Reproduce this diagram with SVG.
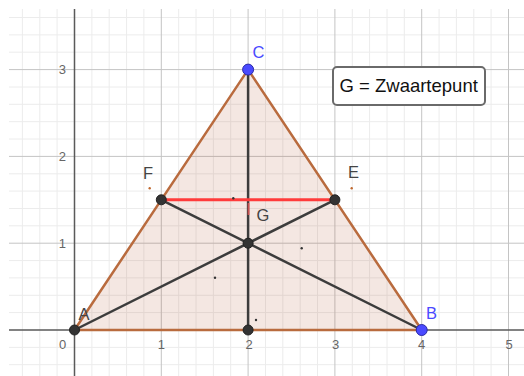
<svg xmlns="http://www.w3.org/2000/svg" width="524" height="376" viewBox="0 0 524 376">
<style>
.minor{stroke:#ececec;stroke-width:1;fill:none}
.major{stroke:#c4c4c4;stroke-width:1;fill:none}
.axis{stroke:#5a5a5a;stroke-width:1.5;fill:none}
.num{font-family:"Liberation Sans",Arial,sans-serif;font-size:13px;fill:#666}
.lbl{font-family:"Liberation Sans",Arial,sans-serif;font-size:16.5px;fill:#444}
.blue{fill:#4a4aff}
.med{stroke:#3c3c3c;stroke-width:2.5;stroke-linecap:round;fill:none}
.pt{fill:#333;stroke:#222;stroke-width:1}
.bpt{fill:#4a4aff;stroke:#2a2aa8;stroke-width:1}
.dot{fill:#333}
.odot{fill:#c0692f}
</style>
<rect x="0" y="0" width="524" height="376" fill="#fff"/>
<g id="grid">
<path class="minor" d="M22.4 9V376M39.8 9V376M57.1 9V376M91.9 9V376M109.2 9V376M126.6 9V376M143.9 9V376M178.7 9V376M196 9V376M213.4 9V376M230.7 9V376M265.5 9V376M282.8 9V376M300.2 9V376M317.5 9V376M352.3 9V376M369.6 9V376M387 9V376M404.3 9V376M439.1 9V376M456.4 9V376M473.8 9V376M491.1 9V376
M9 364.7H524M9 347.4H524M9 312.6H524M9 295.3H524M9 277.9H524M9 260.6H524M9 225.8H524M9 208.5H524M9 191.1H524M9 173.8H524M9 139H524M9 121.7H524M9 104.3H524M9 87H524M9 52.2H524M9 34.9H524M9 17.5H524"/>
<path class="major" d="M161.3 9V376M248.1 9V376M334.9 9V376M421.7 9V376M508.5 9V376M9 243.2H524M9 156.4H524M9 69.6H524"/>
</g>
<g id="axes">
<path class="axis" d="M9 330H524M74.5 9V376"/>
<text class="num" x="66" y="74" text-anchor="end">3</text>
<text class="num" x="66" y="161" text-anchor="end">2</text>
<text class="num" x="66" y="248" text-anchor="end">1</text>
<text class="num" x="62.5" y="348.5" text-anchor="middle">0</text>
<text class="num" x="161.3" y="348.5" text-anchor="middle">1</text>
<text class="num" x="249" y="348.5" text-anchor="middle">2</text>
<text class="num" x="335.5" y="348.5" text-anchor="middle">3</text>
<text class="num" x="421.7" y="348.5" text-anchor="middle">4</text>
<text class="num" x="509" y="348.5" text-anchor="middle">5</text>
</g>
<g id="triangle">
<polygon points="74.5,330 421.7,330 248.1,69.6" fill="#af5830" fill-opacity="0.14" stroke="#b96b3e" stroke-width="2.5" stroke-linejoin="round"/>
</g>
<g id="connectors">
<line class="med" x1="74.5" y1="330" x2="334.9" y2="199.8"/>
<line class="med" x1="421.7" y1="330" x2="161.3" y2="199.8"/>
<line class="med" x1="248.1" y1="69.6" x2="248.1" y2="330"/>
<line x1="161.3" y1="199.8" x2="334.9" y2="199.8" stroke="#ff3b3b" stroke-width="3"/>
<line x1="248.6" y1="203" x2="248.6" y2="215" stroke="#ff5a5a" stroke-width="2" stroke-opacity="0.7"/>
</g>
<g id="labeldots">
<circle class="dot" cx="233.3" cy="198.3" r="1.2"/>
<circle class="dot" cx="301.7" cy="248.3" r="1.2"/>
<circle class="dot" cx="215" cy="277.7" r="1.2"/>
<circle class="dot" cx="256" cy="320" r="1.2"/>
<circle class="odot" cx="149.7" cy="188.3" r="1.2"/>
<circle class="odot" cx="351.7" cy="188.3" r="1.2"/>
</g>
<g id="A"><circle class="pt" cx="74.5" cy="330" r="5"/><text class="lbl" x="78.5" y="320">A</text></g>
<g id="B"><circle class="bpt" cx="421.7" cy="330" r="5.5"/><text class="lbl blue" x="426" y="318.5">B</text></g>
<g id="C"><circle class="bpt" cx="248.1" cy="69.6" r="5.5"/><text class="lbl blue" x="252.5" y="57.5">C</text></g>
<g id="D"><circle class="pt" cx="248.1" cy="330" r="5"/></g>
<g id="E"><circle class="pt" cx="334.9" cy="199.8" r="5"/><text class="lbl" x="348" y="177.5">E</text></g>
<g id="F"><circle class="pt" cx="161.3" cy="199.8" r="5"/><text class="lbl" x="143" y="179">F</text></g>
<g id="G"><circle class="pt" cx="248.1" cy="243.2" r="5"/><text class="lbl" x="256.5" y="221">G</text></g>
<g id="legend">
<rect x="333" y="67" width="152" height="38" rx="4" fill="#fff" stroke="#6a6a6a" stroke-width="2"/>
<text x="339.5" y="91.5" font-family="'Liberation Sans',Arial,sans-serif" font-size="18.5" fill="#111">G = Zwaartepunt</text>
</g>
</svg>
